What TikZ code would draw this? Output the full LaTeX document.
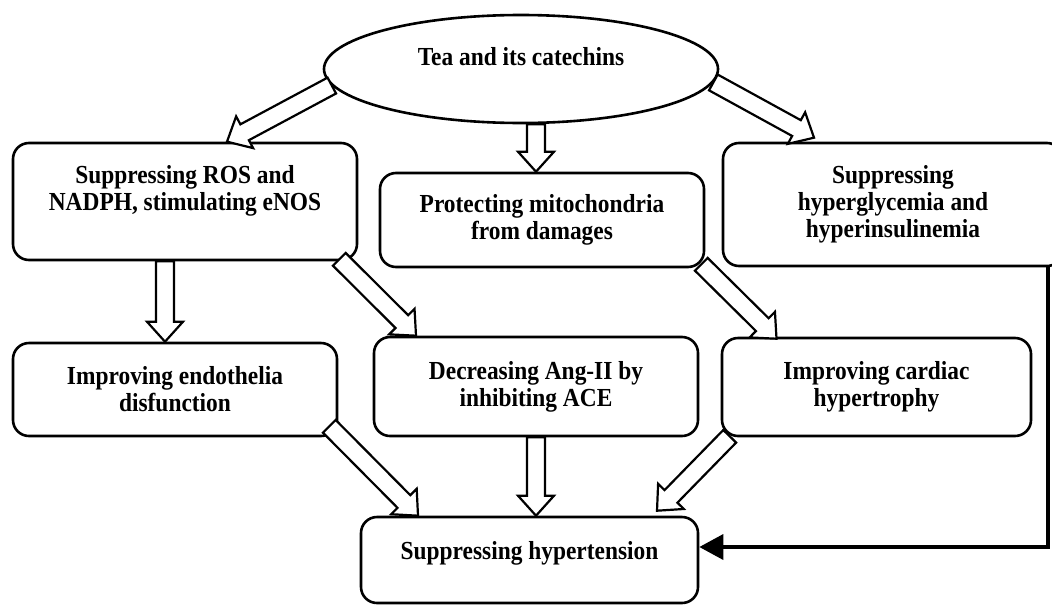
\documentclass[tikz,border=0pt]{standalone}
\usepackage{fontspec}
\setmainfont{Liberation Serif}[FakeStretch=0.9]
\usetikzlibrary{shapes.geometric,calc,arrows.meta}
\tikzset{
  box/.style={draw, line width=1.3pt, rounded corners=8pt, align=center, inner sep=0pt,
    font=\fontsize{13}{13.5}\selectfont\bfseries},
  caption/.style={align=center, font=\fontsize{13}{13.5}\selectfont\bfseries},
  fatarrow/.style={draw, line width=1.1pt, fill=white, line join=miter},
  link/.style={line width=1.8pt, -{Triangle[length=12pt,width=12.5pt]}},
}
% hollow block arrow from #1 to #2
\newcommand{\fatarrow}[2]{%
  \draw[fatarrow] (#1) coordinate (fa-s) (#2) coordinate (fa-e)
    ($(fa-e)!10pt!(fa-s)$) coordinate (fa-b)
    ($(fa-s)!4.5pt!90:(fa-e)$) -- ($(fa-b)!4.5pt!-90:(fa-s)$) -- ($(fa-b)!9pt!-90:(fa-s)$)
    -- (fa-e) -- ($(fa-b)!9pt!90:(fa-s)$) -- ($(fa-b)!4.5pt!90:(fa-s)$)
    -- ($(fa-s)!4.5pt!-90:(fa-e)$) -- cycle;}
\begin{document}
\begin{tikzpicture}[x=0.5pt,y=-0.5pt]
\path[use as bounding box, clip] (0,0) rectangle (1052,605);
% top
\node[draw, ellipse, line width=1.3pt, minimum width=197pt, minimum height=54pt, inner sep=0pt,
  label={[caption, yshift=6pt]center:Tea and its catechins}] (tea) at (521,69) {};
% first row
\node[box, minimum width=172pt, minimum height=58.5pt,
  label={[caption, yshift=5.5pt]center:{Suppressing ROS and\\NADPH, stimulating eNOS}}] (ros) at (185,201.5) {};
\node[box, minimum width=162pt, minimum height=47pt] (mito) at (542,220) {Protecting mitochondria\\from damages};
\node[box, minimum width=170pt, minimum height=61.5pt] (glyc) at (893,204.5) {Suppressing\\hyperglycemia and\\hyperinsulinemia};
% second row
\node[box, minimum width=162pt, minimum height=46.5pt] (endo) at (175,389.5) {Improving endothelia\\disfunction};
\node[box, minimum width=162pt, minimum height=49.5pt] (ang) at (536,386.5) {Decreasing Ang-II by\\inhibiting ACE};
\node[box, minimum width=154.5pt, minimum height=49pt] (card) at (876.5,387) {Improving cardiac\\hypertrophy};
% bottom
\node[box, minimum width=168.5pt, minimum height=43pt,
  label={[caption, yshift=3.5pt]center:Suppressing hypertension}] (hyp) at (529.5,560) {};
% arrows
\fatarrow{tea.185}{[xshift=21pt]ros.north}
\fatarrow{[xshift=7.5pt]tea.south}{[xshift=-3pt]mito.north}
\fatarrow{tea.-4}{[xshift=-39.5pt,yshift=2pt]glyc.north}
\fatarrow{[xshift=-10pt]ros.south}{[xshift=-5pt]endo.north}
\fatarrow{[xshift=-9.5pt,yshift=1pt]ros.south east}{[xshift=-60pt]ang.north}
\fatarrow{[xshift=-2pt,yshift=2pt]mito.south east}{[xshift=-50pt,yshift=-1pt]card.north}
\fatarrow{[xshift=-4.5pt,yshift=5.5pt]endo.south east}{[xshift=-55.75pt]hyp.north}
\fatarrow{ang.south}{[xshift=3.25pt]hyp.north}
\fatarrow{[xshift=4.5pt,yshift=0.5pt]card.south west}{[xshift=63.75pt,yshift=2.5pt]hyp.north}
\draw[link] ([xshift=77.5pt]glyc.south) |- ([yshift=6.5pt]hyp.east);
\end{tikzpicture}
\end{document}
